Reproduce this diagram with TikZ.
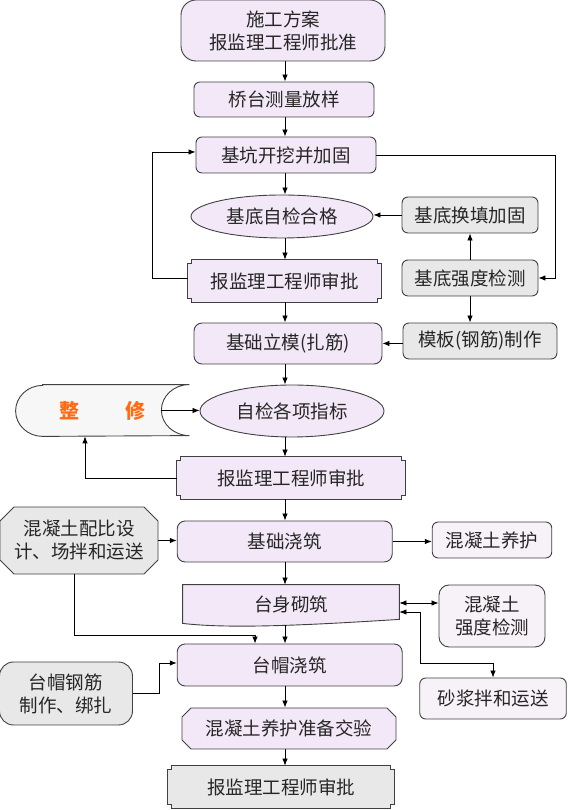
\documentclass[tikz,border=0pt]{standalone}
\usepackage{fontspec}
\setmainfont{Noto Sans CJK SC}
\usepackage{tikz}
\usetikzlibrary{arrows.meta,backgrounds,calc,positioning,shapes.geometric,shapes.misc}
\definecolor{lilac}{HTML}{F3E8F7}
\definecolor{ash}{HTML}{E8E8E8}
\definecolor{pale}{HTML}{F7F2F7}
\definecolor{smoke}{HTML}{F7F7F7}
\definecolor{rust}{HTML}{FF6A13}
\tikzset{%
	txt/.style      = {font=\fontsize{18.5}{23}\selectfont, text=black!85, align=center, inner sep=0pt},
	edge/.style     = {draw=black!75, line width=0.9pt},
	block/.style    = {txt, edge, rectangle, rounded corners=6pt, fill=lilac}, % Step
	aside/.style    = {block, fill=ash}, % Side work
	note/.style     = {block, fill=pale}, % Check
	oval/.style     = {txt, edge, ellipse, fill=lilac}, % Check point
	cut/.style      = {txt, edge, chamfered rectangle, fill=lilac}, % Cut corners
	tag/.style      = {txt, rectangle}, % Text only, shape drawn behind
	waypoint/.style = {coordinate},
}
\newcommand{\notchbox}[2]{%
	\draw[edge, fill=#2] ([xshift=4pt]#1.north west) -- ([xshift=-4pt]#1.north east) -- ++(0,-4) -- ++(4,0)
		-- ([yshift=4pt]#1.south east) -- ++(-4,0) -- ++(0,-4) -- ([xshift=4pt]#1.south west) -- ++(0,4) -- ++(-4,0)
		-- ([yshift=-4pt]#1.north west) -- ++(4,0) -- cycle;}

\begin{document}
\begin{tikzpicture}[x=1pt, y=1pt, >={Latex[length=7pt,width=5.5pt]}, line width=0.8pt]
	\useasboundingbox (0,0) rectangle (567,810);
	\coordinate (spine) at (285,0);
	% main column
	\node[block, minimum width=204pt, minimum height=61pt, rounded corners=15pt] (plan) at (283,779.5) {施工方案\\报监理工程师批准};
	\node[block, minimum width=180pt, minimum height=35pt] (survey) at (284,710.5) {桥台测量放样};
	\node[block, minimum width=180pt, minimum height=36pt] (dig) at (286,655) {基坑开挖并加固};
	\node[oval, minimum width=182pt, minimum height=43pt] (selfck) at (282,593.5) {基底自检合格};
	\node[tag, minimum width=193pt, minimum height=42pt] (appr1) at (284.5,529) {报监理工程师审批};
	\node[block, minimum width=188pt, minimum height=41pt, rounded corners=8pt] (form) at (288,466.5) {基础立模(扎筋)};
	\node[oval, minimum width=184pt, minimum height=52pt] (check) at (292,399) {自检各项指标};
	\node[tag, minimum width=228pt, minimum height=42pt] (appr2) at (291,332) {报监理工程师审批};
	\node[block, minimum width=215pt, minimum height=41pt, rounded corners=8pt] (found) at (284.7,268.5) {基础浇筑};
	\node[tag, minimum width=216pt, minimum height=40pt] (body) at (291,205) {台身砌筑};
	\node[block, minimum width=225pt, minimum height=42pt, rounded corners=8pt] (cap) at (289.7,145) {台帽浇筑};
	\node[cut, minimum width=214pt, minimum height=41pt, chamfered rectangle xsep=4.5pt, chamfered rectangle ysep=4.5pt] (cure2) at (289,81.5) {混凝土养护准备交验};
	\node[tag, minimum width=227pt, minimum height=42pt] (appr3) at (281,23) {报监理工程师审批};
	% side work
	\node[aside, minimum width=136pt, minimum height=36pt] (refill) at (470,595) {基底换填加固};
	\node[aside, minimum width=136pt, minimum height=36pt] (test) at (470,532) {基底强度检测};
	\node[aside, minimum width=154pt, minimum height=36pt] (mold) at (480,469) {模板(钢筋)制作};
	\node[tag, minimum width=173pt, minimum height=51pt, text=rust, font=\fontsize{20}{24}\selectfont\bfseries] (fix) at (102.5,399.5) {整\hspace{2.3em}修};
	\node[cut, fill=ash, minimum width=158pt, minimum height=67pt, chamfered rectangle xsep=7pt, chamfered rectangle ysep=7pt] (mix) at (79,269.5) {混凝土配比设\\计、场拌和运送};
	\node[note, minimum width=119.5pt, minimum height=36pt] (cure) at (492,270) {混凝土养护};
	\node[note, minimum width=106pt, minimum height=62pt, rounded corners=10pt] (strength) at (492,194) {混凝土\\强度检测};
	\node[note, minimum width=146.5pt, minimum height=41pt] (mortar) at (493,111.5) {砂浆拌和运送};
	\node[aside, minimum width=133pt, minimum height=63pt, rounded corners=14pt] (rebar) at (66,116.5) {台帽钢筋\\制作、绑扎};
	% bends
	\node[waypoint] (wpa) at (152,658) {};
	\node[waypoint] (wpb) at (555,532) {};
	\node[waypoint] (wpc) at (255,175) {};
	\node[waypoint] (wpd) at (420.6,147) {};
	\node[waypoint] (wpe) at (159,147) {};
	\node[waypoint, left=28pt of fix.east] (fixin) {};
	% outlines behind text
	\begin{scope}[on background layer]
		\notchbox{appr1}{lilac}
		\notchbox{appr2}{lilac}
		\notchbox{appr3}{ash}
		\draw[edge, fill=lilac] (body.north west) -- (body.north east) -- ([yshift=6pt]body.south east)
			.. controls ([xshift=-80pt,yshift=1pt]body.south east) and ([xshift=50pt,yshift=-4pt]body.south west) .. ([yshift=2pt]body.south west) -- cycle;
		\draw[edge, fill=smoke] ([xshift=27pt]fix.north west) -- (fix.north east) arc[start angle=90, end angle=270, x radius=28pt, y radius=25.5pt]
			-- ([xshift=27pt]fix.south west) arc[start angle=270, end angle=90, x radius=27pt, y radius=25.5pt] -- cycle;
	\end{scope}
	% main flow
	\draw[->] (plan.south -| spine) -- (survey.north -| spine);
	\draw[->] (survey.south -| spine) -- (dig.north -| spine);
	\draw[->] (dig.south -| spine) -- (selfck.north -| spine);
	\draw[->] (selfck.south -| spine) -- (appr1.north -| spine);
	\draw[->] (appr1.south -| spine) -- (form.north -| spine);
	\draw[->] (form.south -| spine) -- (check.north -| spine);
	\draw[->] (check.south -| spine) -- (appr2.north -| spine);
	\draw[->] (appr2.south -| spine) -- (found.north -| spine);
	\draw[->] (found.south -| spine) -- (body.north -| spine);
	\draw[->] (body.south -| spine) -- (cap.north -| spine);
	\draw[->] (cap.south -| spine) -- (cure2.north -| spine);
	\draw[->] (cure2.south -| spine) -- (appr3.north -| spine);
	% loops and side links
	\draw[->] ([yshift=3pt]appr1.west) -| (wpa) -- (wpa -| dig.west);
	\draw[->] (dig.east) -| (wpb) -- (test.east);
	\draw[->] (refill.west) -- (refill.west -| selfck.east);
	\draw[->] (test) -- (refill);
	\draw[->] (test.south) -- (test.south |- mold.north);
	\draw[->] (mold.west |- form.east) -- (form.east);
	\draw[->] (fixin) -- (fixin -| check.west);
	\draw[->] (appr2.west) -| ([xshift=-17.5pt]fix.south);
	\draw[->] (mix.east) -- (mix.east -| found.west);
	\draw[->] (found.east) -- (found.east -| cure.west);
	\draw[->] ([xshift=-5pt]mix.south) |- (wpc) -- (wpc |- cap.north);
	\draw[<->] ([yshift=2pt]body.east) -- ([yshift=2pt]body.east -| strength.west);
	\draw[<->] ([yshift=-7pt]body.east) -| (wpd) -| (mortar.north);
	\draw[->] (rebar.east) -| (wpe) -- (wpe -| cap.west);
\end{tikzpicture}
\end{document}
